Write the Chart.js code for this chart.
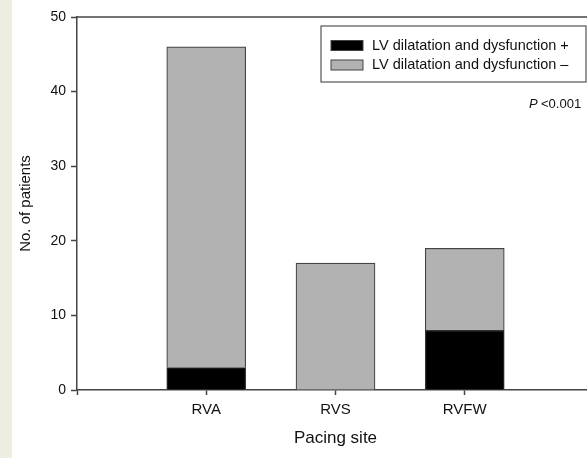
<!DOCTYPE html>
<html>
<head>
<meta charset="utf-8">
<script src="https://cdn.jsdelivr.net/npm/chart.js@4.4.1/dist/chart.umd.min.js"></script>
<style>
  html, body { margin: 0; padding: 0; overflow: hidden; background: #fff; }
  body { width: 587px; height: 458px; position: relative; }
  #strip { position: absolute; left: 0; top: 0; width: 12px; height: 458px; background: #efece1; }
  #wrap { position: absolute; left: 0; top: 0; width: 600px; height: 458px; }
</style>
</head>
<body>
<div id="wrap"><canvas id="barChart"></canvas></div>
<div id="strip"></div>
<script>
// values
var categories = ['RVA', 'RVS', 'RVFW'];
var dysfunctionPlus = [3, 0, 8];
var dysfunctionMinus = [43, 17, 11];
var seriesNames = ['LV dilatation and dysfunction +', 'LV dilatation and dysfunction \u2013'];
var yTicks = [0, 10, 20, 30, 40, 50];

// empty slots either side so the categories sit at 1, 2, 3 on a 0..4 axis
var labels = [''].concat(categories, ['']);
function pad(arr) { return [null].concat(arr, [null]); }

var axisColor = '#444';
var textColor = '#111';
var fontFamily = 'Arial, "Liberation Sans", Helvetica, sans-serif';

// legend box + P value + top frame line
var extras = {
  id: 'extras',
  afterDraw: function(chart) {
    var ctx = chart.ctx, area = chart.chartArea;
    ctx.save();
    ctx.strokeStyle = axisColor;
    ctx.lineWidth = 1.5;
    ctx.beginPath();
    ctx.moveTo(area.left, area.top);
    ctx.lineTo(chart.width, area.top);
    ctx.stroke();

    // legend
    ctx.lineWidth = 1.2;
    ctx.strokeStyle = '#555';
    ctx.strokeRect(321, 26, 265, 56);
    ctx.font = '14.5px ' + fontFamily;
    ctx.textBaseline = 'middle';
    ctx.textAlign = 'left';
    var ys = [45.5, 65];
    chart.data.datasets.forEach(function(ds, i) {
      ctx.fillStyle = ds.backgroundColor;
      ctx.fillRect(331, ys[i] - 5, 32, 10);
      ctx.strokeStyle = '#444';
      ctx.lineWidth = 1;
      ctx.strokeRect(331, ys[i] - 5, 32, 10);
      ctx.fillStyle = textColor;
      ctx.fillText(ds.label, 372, ys[i]);
    });

    // P value
    ctx.textBaseline = 'alphabetic';
    ctx.font = 'italic 13px ' + fontFamily;
    ctx.fillText('P', 529, 108);
    ctx.font = '13px ' + fontFamily;
    ctx.fillText('<0.001', 541, 108);
    ctx.restore();
  }
};

var ctx = document.getElementById('barChart').getContext('2d');
new Chart(ctx, {
  type: 'bar',
  data: {
    labels: labels,
    datasets: [
      {
        label: seriesNames[0],
        data: pad(dysfunctionPlus),
        backgroundColor: '#000000',
        borderColor: '#333',
        borderWidth: 1.2,
        barThickness: 79
      },
      {
        label: seriesNames[1],
        data: pad(dysfunctionMinus),
        backgroundColor: '#b2b2b2',
        borderColor: '#444',
        borderWidth: 1.2,
        barThickness: 79
      }
    ]
  },
  options: {
    responsive: true,
    maintainAspectRatio: false,
    animation: false,
    layout: { padding: { left: 0, right: 3, top: 17, bottom: 0 } },
    plugins: {
      legend: { display: false },
      tooltip: { enabled: false }
    },
    scales: {
      x: {
        stacked: true,
        offset: false,
        grid: { offset: false, drawOnChartArea: false, color: axisColor, tickLength: 5, tickWidth: 1.5 },
        border: { color: axisColor, width: 1.5 },
        ticks: { color: textColor, font: { family: fontFamily, size: 15 }, padding: 6, maxRotation: 0, autoSkip: false },
        title: {
          display: true,
          text: 'Pacing site',
          color: textColor,
          font: { family: fontFamily, size: 17 },
          padding: { top: 0, bottom: 9 }
        },
        afterFit: function(scale) { scale.height = 68; }
      },
      y: {
        stacked: true,
        min: 0,
        max: 50,
        afterBuildTicks: function(scale) { scale.ticks = yTicks.map(function(v) { return { value: v }; }); },
        grid: { drawOnChartArea: false, color: axisColor, tickLength: 6, tickWidth: 1.5 },
        border: { color: axisColor, width: 1.5 },
        ticks: { color: textColor, font: { family: fontFamily, size: 14 }, padding: 5 },
        title: {
          display: true,
          text: 'No. of patients',
          color: textColor,
          font: { family: fontFamily, size: 15 },
          padding: { top: 17, bottom: 0 }
        },
        afterFit: function(scale) { scale.width = 77; }
      }
    }
  },
  plugins: [extras]
});
</script>
</body>
</html>
